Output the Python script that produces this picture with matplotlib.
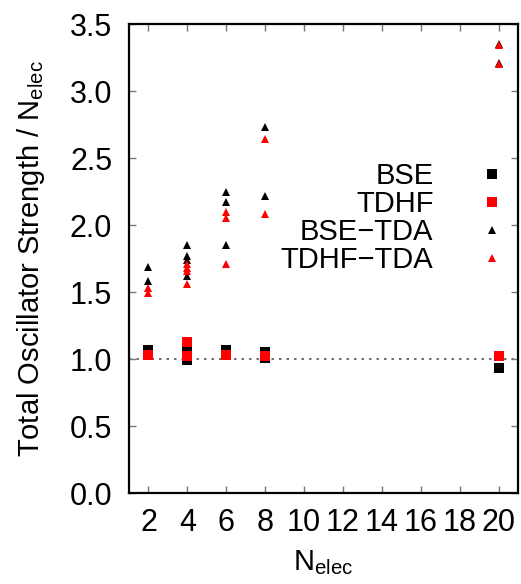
import numpy as np
import matplotlib.pyplot as plt
from matplotlib.lines import Line2D

plt.rcParams['font.family'] = ['Liberation Sans', 'DejaVu Sans']
plt.rcParams['mathtext.fontset'] = 'custom'
plt.rcParams['mathtext.rm'] = 'Liberation Sans'
plt.rcParams['mathtext.it'] = 'Liberation Sans'

# total oscillator strength per electron, by number of electrons
bse_n = [2, 4, 4, 6, 8, 8, 20]
bse_f = [1.065, 1.055, 0.995, 1.065, 1.05, 1.01, 0.93]

tdhf_n = [2, 4, 4, 6, 8, 20]
tdhf_f = [1.03, 1.13, 1.025, 1.03, 1.025, 1.022]

bse_tda_n = [2, 2, 4, 4, 4, 4, 6, 6, 6, 8, 8, 20, 20]
bse_tda_f = [1.69, 1.58, 1.85, 1.77, 1.74, 1.62, 2.25, 2.17, 1.85, 2.73, 2.22, 3.35, 3.21]

tdhf_tda_n = [2, 2, 4, 4, 4, 4, 6, 6, 6, 8, 8, 20, 20]
tdhf_tda_f = [1.53, 1.49, 1.71, 1.68, 1.66, 1.56, 2.10, 2.05, 1.71, 2.64, 2.08, 3.34, 3.20]

xticks = np.arange(2, 21, 2)
yticks = np.arange(0, 3.51, 0.5)

fig = plt.figure(figsize=(5.21, 5.84), dpi=100)
ax = fig.add_axes([0.2476, 0.1558, 0.7466, 0.8031])

ax.axhline(1.0, color='#555555', lw=1.2, ls=(0, (1.5, 3)), zorder=1)

ax.plot(bse_n, bse_f, 's', color='black', ms=7.2, mew=0, zorder=2)
ax.plot(tdhf_n, tdhf_f, 's', color='red', ms=7.2, mew=0, zorder=3)
ax.plot(bse_tda_n, bse_tda_f, '^', color='black', ms=6.3, mew=0, zorder=4)
ax.plot(tdhf_tda_n, tdhf_tda_f, '^', color='red', ms=6.3, mew=0, zorder=5)

ax.set_xlim(1, 21)
ax.set_ylim(0, 3.5)
ax.set_xticks(xticks)
ax.set_yticks(yticks)
ax.set_yticklabels([f'{v:.1f}' for v in yticks])
ax.tick_params(direction='in', top=True, right=True, length=5, width=1,
               color='#777777', labelsize=22, pad=12)
ax.tick_params(axis='x', pad=11)
for s in ax.spines.values():
    s.set_linewidth(1.6)

ax.set_xlabel(r'N$_{\mathrm{elec}}$', fontsize=21, labelpad=7)
ax.set_ylabel(r'Total Oscillator Strength / N$_{\mathrm{elec}}$', fontsize=21, labelpad=16)

handles = [
    Line2D([], [], ls='none', marker='s', color='black', ms=7.2, mew=0),
    Line2D([], [], ls='none', marker='s', color='red', ms=7.2, mew=0),
    Line2D([], [], ls='none', marker='^', color='black', ms=5.5, mew=0),
    Line2D([], [], ls='none', marker='^', color='red', ms=5.5, mew=0),
]
labels = ['BSE', 'TDHF', 'BSE\u2212TDA', 'TDHF\u2212TDA']
ax.legend(handles, labels, markerfirst=False, frameon=False, fontsize=21,
          loc='upper right', bbox_to_anchor=(1.007, 0.736), handlelength=1.0,
          handletextpad=1.49, labelspacing=0.0, borderpad=0)

fig.savefig('out.png', dpi=100)
